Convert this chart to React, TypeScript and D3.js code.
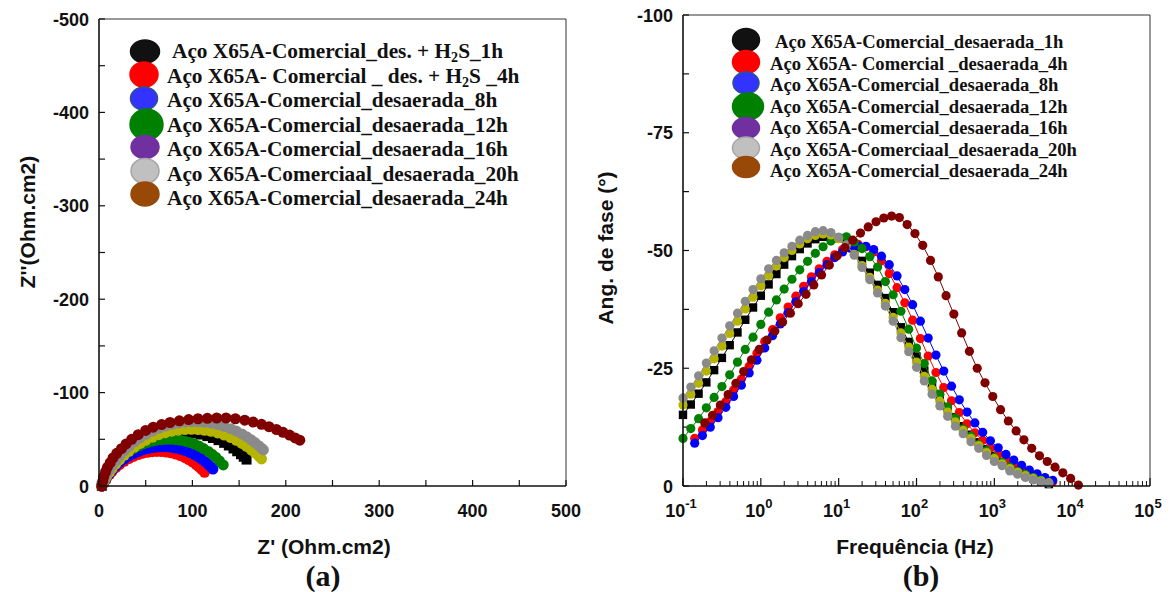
import React from 'react';
import * as d3 from 'd3';

// ---------- Bode (phase) data ----------
const freqA = [
  0.1, 0.1259, 0.1585, 0.1995, 0.2512, 0.3162, 0.3981, 0.5012, 0.631, 0.7943,
  1, 1.259, 1.585, 1.995, 2.512, 3.162, 3.981, 5.012, 6.31, 7.943,
  10, 12.59, 15.85, 19.95, 25.12, 31.62, 39.81, 50.12, 63.1, 79.43,
  100, 125.9, 158.5, 199.5, 251.2, 316.2, 398.1, 501.2, 631, 794.3,
  1000, 1259, 1585, 1995, 2512, 3162, 3981, 5012,
];
const freqB = [
  0.1413, 0.1778, 0.2239, 0.2818, 0.3548, 0.4467, 0.5623, 0.7079, 0.8913, 1.122,
  1.413, 1.778, 2.239, 2.818, 3.548, 4.467, 5.623, 7.079, 8.913, 11.22,
  14.13, 17.78, 22.39, 28.18, 35.48, 44.67, 56.23, 70.79, 89.13, 112.2,
  141.3, 177.8, 223.9, 281.8, 354.8, 446.7, 562.3, 707.9, 891.3, 1122,
  1413, 1778, 2239, 2818, 3548, 4467, 5623,
];
const freqC = [
  0.1905, 0.2399, 0.302, 0.3802, 0.4786, 0.6026, 0.7586, 0.955, 1.202, 1.514,
  1.905, 2.399, 3.02, 3.802, 4.786, 6.026, 7.586, 9.55, 12.02, 15.14,
  19.05, 23.99, 30.2, 38.02, 47.86, 60.26, 75.86, 95.5, 120.2, 151.4,
  190.5, 239.9, 302, 380.2, 478.6, 602.6, 758.6, 955, 1202, 1514,
  1905, 2399, 3020, 3802, 4786, 6026, 7586, 9550, 12023,
];

const phase1h = [
  -15.1, -17.3, -19.6, -22.0, -24.6, -27.2, -29.9, -32.6, -35.3, -37.9,
  -40.4, -42.8, -45.0, -47.0, -48.8, -50.3, -51.5, -52.4, -52.9, -53.0,
  -52.6, -51.6, -50.0, -47.8, -45.3, -42.7, -39.9, -36.9, -33.7, -30.6,
  -27.5, -24.5, -21.7, -19.1, -16.7, -14.6, -12.7, -10.9, -9.3, -7.8,
  -6.4, -5.1, -4.0, -3.1, -2.3, -1.6, -1.0, -0.4,
];
const phase4h = [
  -10.1, -11.9, -13.7, -15.8, -17.9, -20.4, -22.7, -25.4, -28.2, -30.7,
  -33.2, -35.7, -38.0, -40.3, -42.4, -44.4, -46.1, -47.7, -49.1, -50.2,
  -51.0, -51.3, -50.8, -49.7, -47.8, -45.1, -42.1, -38.9, -35.2, -31.3,
  -27.6, -24.1, -20.9, -18.1, -15.6, -13.2, -11.3, -9.7, -8.1, -6.8,
  -5.5, -4.5, -3.6, -2.8, -2.1, -1.5, -0.9,
];
const phase8h = [
  -9.1, -10.7, -12.5, -14.5, -16.7, -19.0, -21.4, -24.0, -26.7, -29.3,
  -31.9, -34.4, -36.8, -39.1, -41.3, -43.4, -45.3, -47.0, -48.5, -49.7,
  -50.5, -51.0, -50.9, -50.2, -48.8, -47.0, -44.6, -41.7, -38.5, -35.0,
  -31.4, -27.8, -24.4, -21.2, -18.3, -15.7, -13.4, -11.4, -9.6, -8.1,
  -6.7, -5.5, -4.4, -3.4, -2.6, -1.8, -1.2,
];
const phase12h = [
  -10.1, -12.2, -14.3, -16.6, -18.8, -21.1, -23.6, -26.3, -29.0, -31.6,
  -34.3, -36.9, -39.5, -41.8, -43.9, -45.9, -47.7, -49.4, -50.8, -52.0,
  -52.8, -52.9, -51.8, -50.4, -48.7, -46.5, -43.4, -40.6, -37.1, -33.3,
  -29.3, -26.0, -22.3, -19.5, -16.8, -14.4, -12.1, -10.6, -8.8, -7.5,
  -6.1, -5.0, -4.0, -3.1, -2.5, -1.8, -1.2, -0.6,
];
const phase16h = [
  -17.2, -19.5, -21.8, -24.4, -27.0, -29.7, -32.4, -35.0, -37.6, -40.1,
  -42.5, -44.7, -46.7, -48.5, -50.0, -51.4, -52.5, -53.2, -53.5, -53.3,
  -52.5, -51.1, -49.2, -46.8, -44.3, -41.6, -38.8, -35.8, -32.5, -29.5,
  -26.3, -23.3, -20.5, -18.0, -15.7, -13.6, -11.8, -10.1, -8.6, -7.1,
  -5.8, -4.7, -3.7, -2.9, -2.2, -1.6, -1.1, -0.7,
];
const phase20h = [
  -18.7, -21.0, -23.4, -26.1, -28.7, -31.4, -34.0, -36.7, -39.2, -41.7,
  -44.0, -46.1, -47.9, -49.5, -50.9, -52.2, -53.2, -54.0, -54.2, -53.8,
  -52.8, -51.2, -49.0, -46.4, -43.8, -41.0, -38.2, -35.0, -31.5, -28.5,
  -25.2, -22.3, -19.5, -17.0, -14.8, -12.7, -11.1, -9.4, -8.0, -6.5,
  -5.2, -4.3, -3.2, -2.5, -1.8, -1.3, -0.9, -0.6,
];
const phase24h = [
  -13.4, -15.0, -17.2, -19.4, -21.8, -24.3, -26.8, -29.0, -31.0, -32.9,
  -34.8, -36.7, -38.7, -40.7, -42.7, -44.8, -46.9, -48.9, -50.6, -52.2,
  -53.7, -55.0, -56.1, -56.9, -57.3, -57.0, -55.5, -53.6, -51.1, -47.9,
  -44.4, -40.4, -36.5, -32.5, -28.6, -25.0, -21.9, -19.0, -16.2, -13.8,
  -11.7, -9.8, -8.0, -6.4, -5.2, -4.0, -2.8, -1.6, -0.2,
];

// ---------- Nyquist data ----------
const nyqRe1h = [3, 5, 7, 10, 14, 18, 23, 28, 34, 40, 46, 53, 60, 67, 74, 81, 88, 95, 102, 109, 116, 122, 128, 134, 139, 144, 148, 152, 155, 158];
const nyqIm1h = [-0.2, -4.4, -8.2, -13.2, -19, -24, -29.3, -34, -38.7, -42.8, -46.2, -49.5, -52.1, -54.2, -55.6, -56.6, -57, -56.9, -56.2, -55.1, -53.4, -51.4, -49.1, -46.2, -43.4, -40.2, -37.2, -34, -31.3, -28.3];
const nyqRe4h = [3, 4, 6, 8, 11, 14, 18, 22, 27, 32, 37, 42, 47, 52, 57, 62, 67, 72, 77, 82, 87, 92, 96, 100, 104, 107, 110, 113];
const nyqIm4h = [0, -1.7, -5.2, -8.3, -12.2, -15.7, -19.6, -23, -26.5, -29.4, -31.7, -33.6, -35.1, -36.1, -36.7, -37, -36.9, -36.4, -35.5, -34.2, -32.6, -30.4, -28.3, -25.9, -23, -20.5, -17.7, -14.6];
const nyqRe8h = [3, 4, 6, 8, 11, 14, 18, 22, 27, 32, 37, 42, 47, 52, 57, 62, 67, 72, 77, 82, 87, 92, 97, 102, 106, 110, 114, 117, 120, 122];
const nyqIm8h = [0, -2, -5.7, -9, -13.3, -17.1, -21.3, -25, -28.8, -32.1, -34.7, -36.9, -38.7, -40.1, -41.1, -41.7, -42, -41.9, -41.5, -40.7, -39.6, -38.1, -36.1, -33.7, -31.5, -28.8, -25.8, -23.2, -20.3, -18.2];
const nyqRe12h = [3, 4, 6, 8, 11, 14, 18, 22, 27, 32, 37, 42, 47, 52, 57, 62, 67, 72, 77, 82, 87, 92, 97, 102, 107, 112, 117, 121, 125, 129, 133];
const nyqIm12h = [0, -2.4, -6.9, -10.8, -15.8, -20, -24.8, -29, -33.3, -37, -40.1, -42.7, -44.9, -46.6, -48, -49, -49.6, -50, -50, -49.6, -49, -48, -46.6, -44.9, -42.7, -40.1, -37, -34.1, -30.8, -27, -22.5];
const nyqRe16h = [3, 4, 6, 8, 11, 14, 18, 22, 27, 32, 38, 44, 50, 57, 64, 71, 78, 85, 92, 99, 106, 113, 120, 127, 134, 141, 147, 153, 158, 163, 167, 171, 174];
const nyqIm16h = [-0.3, -2.4, -6.1, -9.6, -14.3, -18.5, -23.5, -27.9, -32.8, -37.2, -41.7, -45.6, -48.9, -52.2, -54.9, -57.1, -58.7, -59.8, -60.5, -60.7, -60.4, -59.7, -58.5, -56.8, -54.6, -51.8, -48.9, -45.6, -42.4, -38.7, -35.5, -31.9, -29];
const nyqRe20h = [3, 4, 6, 8, 11, 14, 18, 22, 27, 32, 38, 44, 50, 57, 64, 71, 78, 85, 92, 99, 106, 113, 120, 127, 134, 141, 147, 153, 158, 163, 167, 171, 174, 176];
const nyqIm20h = [-0.3, -2.9, -7.5, -11.6, -17, -21.7, -27.3, -32.2, -37.6, -42.3, -47.2, -51.5, -55.1, -58.8, -61.7, -64.2, -66, -67.4, -68.3, -68.8, -68.7, -68.2, -67.3, -65.8, -63.8, -61.4, -58.8, -55.7, -52.8, -49.4, -46.5, -43.2, -40.5, -38.6];
const nyqRe24h = [3, 4, 5, 7, 9, 12, 15, 19, 24, 29, 35, 42, 50, 58, 67, 76, 86, 96, 106, 116, 126, 136, 146, 156, 165, 174, 182, 190, 197, 204, 210, 215];
const nyqIm24h = [0, -5, -10, -15, -20, -25, -30, -35, -40, -45, -50, -55, -59.5, -63, -65.8, -68, -69.8, -71.1, -72, -72.5, -72.8, -72.8, -72, -70.5, -68.5, -66, -63.5, -60.5, -57.5, -54.5, -51.5, -49];

// ---------- Colours / labels ----------
const dataColors = ['#000000', '#ff0000', '#0000ff', '#008000', '#b5b500', '#8a8a8a', '#800000'];
const legendFills = ['#111111', '#ff0000', '#3333ff', '#008000', '#7030a0', '#c0c0c0', '#984807'];
const legendStrokes = ['#111111', '#ff0000', '#2f528f', '#008000', '#7030a0', '#a6a6a6', '#984807'];

const leftLegendLabels = [
  'Aço X65A-Comercial_des. + H₂S_1h',
  'Aço X65A- Comercial _ des. + H₂S _4h',
  'Aço X65A-Comercial_desaerada_8h',
  'Aço X65A-Comercial_desaerada_12h',
  'Aço X65A-Comercial_desaerada_16h',
  'Aço X65A-Comerciaal_desaerada_20h',
  'Aço X65A-Comercial_desaerada_24h',
];
const rightLegendLabels = [
  'Aço X65A-Comercial_desaerada_1h',
  'Aço X65A- Comercial _desaerada_4h',
  'Aço X65A-Comercial_desaerada_8h',
  'Aço X65A-Comercial_desaerada_12h',
  'Aço X65A-Comercial_desaerada_16h',
  'Aço X65A-Comerciaal_desaerada_20h',
  'Aço X65A-Comercial_desaerada_24h',
];

const nyqTicks = [0, 50, 100, 150, 200, 250, 300, 350, 400, 450, 500];
const nyqLabels = [0, 100, 200, 300, 400, 500];
const phaseTicks = [0, -12.5, -25, -37.5, -50, -62.5, -75, -87.5, -100];
const phaseLabels = [0, -25, -50, -75, -100];
const decadeExps = [-1, 0, 1, 2, 3, 4, 5];

const SANS = "'Liberation Sans', Arial, Helvetica, sans-serif";
const SERIF = "'Liberation Serif', 'Times New Roman', serif";

// legend geometry
const leftLegendMarkers = [
  { cx: 145, cy: 51.5, rx: 14.5, ry: 11.5 },
  { cx: 144, cy: 74.5, rx: 14, ry: 12.5 },
  { cx: 144, cy: 98.5, rx: 13.5, ry: 11.5 },
  { cx: 146.5, cy: 124.5, rx: 16.5, ry: 15.5 },
  { cx: 145, cy: 147, rx: 14, ry: 11.5 },
  { cx: 145, cy: 171, rx: 14, ry: 12.5 },
  { cx: 145, cy: 194, rx: 14, ry: 12 },
];
const rightLegendMarkers = [
  { cx: 746, cy: 40, rx: 13.5, ry: 11.5 },
  { cx: 746, cy: 62, rx: 13.5, ry: 11.5 },
  { cx: 746, cy: 83, rx: 13, ry: 11 },
  { cx: 748, cy: 106.5, rx: 15.5, ry: 13.5 },
  { cx: 746, cy: 128, rx: 13.5, ry: 10.5 },
  { cx: 746, cy: 148, rx: 13.5, ry: 11 },
  { cx: 746, cy: 167, rx: 13.5, ry: 10.5 },
];

function LegendText({ x, y, text, size }: { x: number; y: number; text: string; size: number }) {
  const parts = text.split('₂');
  const sub = size * 0.2;
  return (
    <text x={x} y={y} fontFamily={SERIF} fontWeight="bold" fontSize={size} fill="#111">
      {parts.map((p, i) => (
        <React.Fragment key={i}>
          {i > 0 && (
            <tspan fontSize={size * 0.66} dy={sub}>
              2
            </tspan>
          )}
          <tspan dy={i > 0 ? -sub : 0}>{p}</tspan>
        </React.Fragment>
      ))}
    </text>
  );
}

export default function App() {
  // scales
  const xL = d3.scaleLinear().domain([0, 500]).range([99, 566]);
  const yL = d3.scaleLinear().domain([0, -500]).range([486, 19]);
  const xR = d3.scaleLog().domain([0.1, 1e5]).range([683, 1150]);
  const yR = d3.scaleLinear().domain([0, -100]).range([486, 15]);

  const nyq = [
    { re: nyqRe1h, im: nyqIm1h, square: true },
    { re: nyqRe4h, im: nyqIm4h, square: false },
    { re: nyqRe8h, im: nyqIm8h, square: false },
    { re: nyqRe12h, im: nyqIm12h, square: false },
    { re: nyqRe16h, im: nyqIm16h, square: false },
    { re: nyqRe20h, im: nyqIm20h, square: false },
    { re: nyqRe24h, im: nyqIm24h, square: false },
  ].map((s, i) => ({ ...s, color: dataColors[i] }));

  const bode = [
    { f: freqA, p: phase1h, square: true },
    { f: freqB, p: phase4h, square: false },
    { f: freqB, p: phase8h, square: false },
    { f: freqA, p: phase12h, square: false },
    { f: freqA, p: phase16h, square: false },
    { f: freqA, p: phase20h, square: false },
    { f: freqC, p: phase24h, square: false },
  ].map((s, i) => ({ ...s, color: dataColors[i] }));

  const minorTicks: number[] = [];
  for (let e = -1; e < 5; e++) {
    for (let m = 2; m <= 9; m++) minorTicks.push(m * Math.pow(10, e));
  }

  const bodeLine = d3
    .line<[number, number]>()
    .x((d) => xR(d[0]))
    .y((d) => yR(d[1]));
  const nyqLine = d3
    .line<[number, number]>()
    .x((d) => xL(d[0]))
    .y((d) => yL(d[1]));

  const tickFont = { fontFamily: SANS, fontWeight: 'bold' as const, fontSize: 18, fill: '#111' };
  const titleFont = { fontFamily: SANS, fontWeight: 'bold' as const, fontSize: 21, fill: '#111' };

  return (
    <svg
      width={1171}
      height={592}
      viewBox="0 0 1171 592"
      style={{ position: 'absolute', left: 0, top: 0, background: '#fff' }}
    >
      <rect x={0} y={0} width={1171} height={592} fill="#fff" />

      {/* ================= LEFT: Nyquist ================= */}
      <g>
        <line x1={xL(0)} x2={xL(500)} y1={yL(-500)} y2={yL(-500)} stroke="#333" strokeWidth={1} />
        <line x1={xL(500)} x2={xL(500)} y1={yL(-500)} y2={yL(0)} stroke="#333" strokeWidth={1} />
        {nyqTicks.map((t) => (
          <line key={'lx' + t} x1={xL(t)} x2={xL(t)} y1={yL(0)} y2={yL(0) - 6} stroke="#111" strokeWidth={1.2} />
        ))}
        {nyqTicks.map((t) => (
          <line key={'ly' + t} x1={xL(0)} x2={xL(0) + 6} y1={yL(-t)} y2={yL(-t)} stroke="#111" strokeWidth={1.2} />
        ))}
        {nyqLabels.map((t) => (
          <text key={'lxl' + t} x={xL(t)} y={517} textAnchor="middle" {...tickFont}>
            {t}
          </text>
        ))}
        {nyqLabels.map((t) => (
          <text key={'lyl' + t} x={89} y={yL(-t) + 6.5} textAnchor="end" {...tickFont}>
            {t === 0 ? '0' : '-' + t}
          </text>
        ))}

        {nyq.map((s, i) => {
          const pts = s.re.map((r, k) => [r, s.im[k]] as [number, number]);
          return (
            <g key={'nq' + i}>
              <path d={nyqLine(pts) || ''} fill="none" stroke={s.color} strokeWidth={1} />
              {pts.map((d, k) =>
                s.square ? (
                  <rect key={k} x={xL(d[0]) - 5} y={yL(d[1]) - 5} width={10} height={10} fill={s.color} />
                ) : (
                  <circle key={k} cx={xL(d[0])} cy={yL(d[1])} r={5.5} fill={s.color} />
                )
              )}
            </g>
          );
        })}

        <line x1={xL(0)} x2={xL(0)} y1={yL(-500)} y2={yL(0)} stroke="#111" strokeWidth={1.6} />
        <line x1={xL(0)} x2={xL(500)} y1={yL(0)} y2={yL(0)} stroke="#111" strokeWidth={1.6} />

        {leftLegendMarkers.map((m, i) => (
          <ellipse
            key={'lm' + i}
            cx={m.cx}
            cy={m.cy}
            rx={m.rx}
            ry={m.ry}
            fill={legendFills[i]}
            stroke={legendStrokes[i]}
            strokeWidth={1.5}
          />
        ))}
        {leftLegendLabels.map((t, i) => (
          <LegendText key={'lt' + i} x={i === 0 ? 172 : 167} y={58 + i * 24.5} text={t} size={21.3} />
        ))}

        <text x={324} y={554} textAnchor="middle" {...titleFont}>
          Z' (Ohm.cm2)
        </text>
        <text transform="translate(27,222) rotate(-90)" textAnchor="middle" dominantBaseline="central" {...titleFont}>
          Z''(Ohm.cm2)
        </text>
        <text x={323} y={586} textAnchor="middle" fontFamily={SERIF} fontWeight="bold" fontSize={30} fill="#111">
          (a)
        </text>
      </g>

      {/* ================= RIGHT: Bode phase ================= */}
      <g>
        <line x1={683} x2={1150} y1={yR(-100)} y2={yR(-100)} stroke="#333" strokeWidth={1} />
        <line x1={1150} x2={1150} y1={yR(-100)} y2={yR(0)} stroke="#333" strokeWidth={1} />

        {decadeExps.map((e) => (
          <line
            key={'rx' + e}
            x1={xR(Math.pow(10, e))}
            x2={xR(Math.pow(10, e))}
            y1={yR(0)}
            y2={yR(0) - 8}
            stroke="#111"
            strokeWidth={1.2}
          />
        ))}
        {minorTicks.map((t, i) => (
          <line key={'rm' + i} x1={xR(t)} x2={xR(t)} y1={yR(0)} y2={yR(0) - 5} stroke="#111" strokeWidth={1} />
        ))}
        {phaseTicks.map((t) => (
          <line key={'ry' + t} x1={683} x2={689} y1={yR(t)} y2={yR(t)} stroke="#111" strokeWidth={1.2} />
        ))}
        {phaseLabels.map((t) => (
          <text key={'ryl' + t} x={673} y={yR(t) + 6.5} textAnchor="end" {...tickFont}>
            {t === 0 ? '0' : String(t)}
          </text>
        ))}
        {decadeExps.map((e) => (
          <text key={'rxl' + e} x={xR(Math.pow(10, e)) - 2} y={517} textAnchor="middle" {...tickFont}>
            10
            <tspan fontSize={13} dy={-9}>
              {String(e)}
            </tspan>
          </text>
        ))}

        {bode.map((s, i) => {
          const pts = s.f.map((f, k) => [f, s.p[k]] as [number, number]);
          return (
            <g key={'bd' + i}>
              <path d={bodeLine(pts) || ''} fill="none" stroke={s.color} strokeWidth={1} />
              {pts.map((d, k) =>
                s.square ? (
                  <rect key={k} x={xR(d[0]) - 4.2} y={yR(d[1]) - 4.2} width={8.4} height={8.4} fill={s.color} />
                ) : (
                  <circle key={k} cx={xR(d[0])} cy={yR(d[1])} r={4.6} fill={s.color} />
                )
              )}
            </g>
          );
        })}

        <line x1={683} x2={683} y1={yR(-100)} y2={yR(0)} stroke="#111" strokeWidth={1.6} />
        <line x1={683} x2={1150} y1={yR(0)} y2={yR(0)} stroke="#111" strokeWidth={1.6} />

        {rightLegendMarkers.map((m, i) => (
          <ellipse
            key={'rlm' + i}
            cx={m.cx}
            cy={m.cy}
            rx={m.rx}
            ry={m.ry}
            fill={legendFills[i]}
            stroke={legendStrokes[i]}
            strokeWidth={1.5}
          />
        ))}
        {rightLegendLabels.map((t, i) => (
          <LegendText key={'rlt' + i} x={i === 0 ? 775 : 770} y={48 + i * 21.5} text={t} size={18.6} />
        ))}

        <text x={915} y={554} textAnchor="middle" {...titleFont}>
          Frequência (Hz)
        </text>
        <text transform="translate(605,248) rotate(-90)" textAnchor="middle" dominantBaseline="central" {...titleFont}>
          Ang. de fase (°)
        </text>
        <text x={921} y={586} textAnchor="middle" fontFamily={SERIF} fontWeight="bold" fontSize={30} fill="#111">
          (b)
        </text>
      </g>
    </svg>
  );
}
